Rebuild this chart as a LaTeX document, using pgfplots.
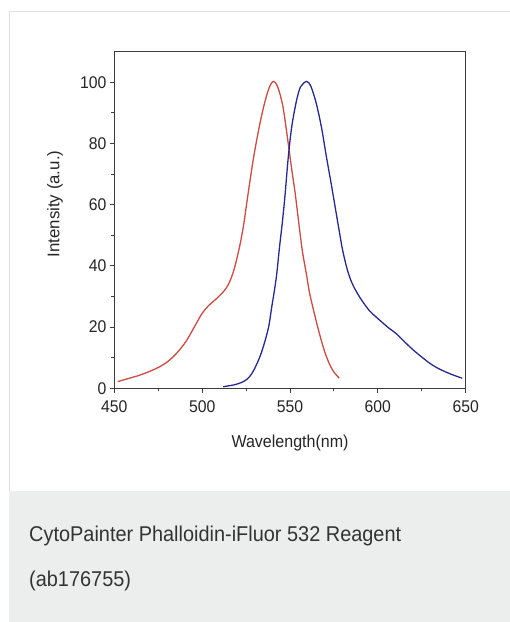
\documentclass[border=0pt]{standalone}
\usepackage{pgfplots}
\pgfplotsset{compat=1.18}
\usepackage{fontspec}
\setmainfont{Liberation Sans}
\newfontfamily\narrowfont[FakeStretch=0.93]{Liberation Sans}
\definecolor{exred}{RGB}{205,75,65}
\definecolor{emblue}{RGB}{40,40,145}
\definecolor{boxgray}{RGB}{236,238,238}
\definecolor{bordergray}{RGB}{222,222,222}
\definecolor{axgray}{RGB}{60,60,60}
\pgfplotstableread{
x y
452 2.2
458 3.2
464 4.2
470 5.5
476 7.1
481 9.0
486 11.8
491 15.5
496 20.5
500 24.5
504 27.2
508 29.2
512 31.5
515 34.0
518 38.5
521 45.5
523.5 53
526 63
529 74.5
532 84
535 92
538 98
540.5 100.3
543 98.5
546 92
549 80
551 71.5
553 63.5
555 54
557 45
559.4 37.1
561 31.5
563.2 26
566 19.5
568 15.3
570 11.5
572.7 7.6
575 5.3
578 3.3
}\excitation
\pgfplotstableread{
x y
512 0.5
515 0.8
518 1.1
521 1.6
523.5 2.2
526 3.2
528 4.6
530 6.6
533 10.5
535.7 15.3
538 20.5
539.5 26.2
541 31.5
542.4 37.1
544 46
545.5 53.5
547 62
549 75.4
551 85.5
553.7 94
556 98.5
559.5 100.3
562 98.5
565 93
568 85
570.8 75.4
573.7 66
577.4 53.5
580 45
583 38
586 33.5
590 29.5
595 25.5
600 22.8
606 19.8
610.6 17.8
615 15.3
620 12.6
625 10.2
630 8
635 6.3
640 5
644 4.1
648 3.3
}\emission
\begin{document}
\begin{tikzpicture}
\useasboundingbox (0bp,0bp) rectangle (510bp,622bp);
\fill[white] (0bp,0bp) rectangle (510bp,622bp);
\fill[boxgray] (8.5bp,0bp) rectangle (510bp,131bp);
\draw[bordergray, line width=1bp] (9bp,131bp) -- (9bp,610bp) -- (510bp,610bp);
\node[anchor=base west, font=\narrowfont\fontsize{21.5}{26}\selectfont, text=black!80, inner sep=0] at (29bp,80.3bp) {CytoPainter Phalloidin-iFluor 532 Reagent};
\node[anchor=base west, font=\narrowfont\fontsize{21.5}{26}\selectfont, text=black!80, inner sep=0] at (29bp,36bp) {(ab176755)};
\begin{axis}[
  at={(114.3bp,233.7bp)}, anchor=south west,
  scale only axis, width=351.4bp, height=336.6bp,
  xmin=450, xmax=650, ymin=0, ymax=110,
  xtick={450,500,...,650}, ytick={0,20,...,100},
  minor x tick num=1, minor y tick num=1,
  tick align=outside, tick pos=left,
  major tick length=4.5bp, minor tick length=3bp,
  axis line style={axgray, line width=1bp},
  every tick/.style={axgray, line width=0.9bp},
  ticklabel style={font=\narrowfont\fontsize{17}{20}\selectfont, text=black!85},
  xticklabel style={yshift=-4.5bp},
  /pgf/number format/assume math mode=true,
  xlabel={Wavelength(nm)}, ylabel={Intensity (a.u.)},
  xlabel style={font=\narrowfont\fontsize{17.3}{20}\selectfont, text=black!85, at={(axis description cs:0.5,-0.175)}, anchor=base, inner sep=0},
  ylabel style={font=\fontsize{16.9}{20}\selectfont, text=black!85, at={(axis description cs:-0.169,0.5475)}, anchor=center, inner sep=0},
]
\addplot[exred, line width=1.3bp, smooth] table {\excitation};
\addplot[emblue, line width=1.3bp, smooth] table {\emission};
\end{axis}
\end{tikzpicture}
\end{document}
